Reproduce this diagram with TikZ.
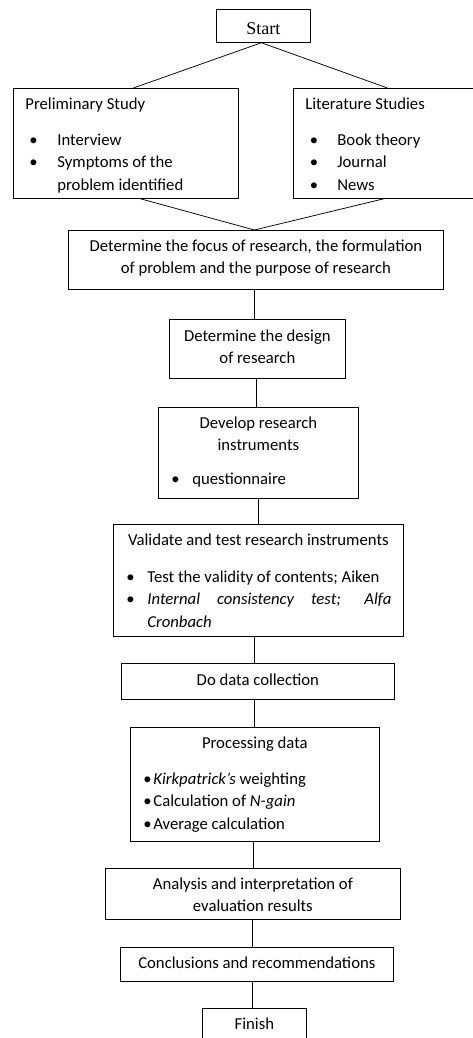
\documentclass[tikz,border=0pt]{standalone}
\usepackage{fontspec}
\setmainfont{Carlito}
\newfontfamily\timesfont{Liberation Serif}
\newcommand\bx[3]{\parbox[c][#2pt][t]{#1pt}{\fontsize{16.7}{22.3}\selectfont#3}}
\newcommand\bl[2]{\hspace*{#1pt}\makebox[#2pt][l]{\textbullet}}
\newcommand\fst[1]{\rule{0pt}{#1pt}}
\tikzset{
  box/.style={draw=black, line width=0.75pt, rectangle, inner sep=0pt, anchor=north west},
  link/.style={draw=black, line width=0.75pt}
}
\begin{document}
\begin{tikzpicture}[x=1pt,y=-1pt]
\clip (0,0) rectangle (473,1038);
\useasboundingbox (0,0) rectangle (473,1038);

\node[box] (start) at (216,9) {\bx{94}{33}{\centering\timesfont\fontsize{18}{20}\selectfont\fst{25}Start}};

\node[box] (prelim) at (13,88) {\bx{225}{110}{\fst{21}\hspace*{12pt}Preliminary Study\\[14pt]
\bl{16}{28}Interview\\
\bl{16}{28}Symptoms of the\\
\hspace*{44pt}problem identified}};

\node[box] (lit) at (293,88) {\bx{181}{110}{\fst{21}\hspace*{12pt}Literature Studies\\[14pt]
\bl{16.5}{27.5}Book theory\\
\bl{16.5}{27.5}Journal\\
\bl{16.5}{27.5}News}};

\node[box] (focus) at (68,230) {\bx{375}{59}{\centering\fst{21}Determine the focus of research, the formulation\\ of problem and the purpose of research}};

\node[box] (design) at (169,319) {\bx{176}{59}{\centering\fst{22}Determine the design\\ of research}};

\node[box] (develop) at (158,407) {\bx{200}{91}{\centering\fst{21}Develop research\\ instruments\\[12pt]
\makebox[200pt][l]{\bl{13}{21}questionnaire}}};

\node[box] (validate) at (113,524) {\bx{290}{112}{\centering\fst{21}Validate and test research instruments\\[15pt]
\makebox[290pt][l]{\bl{13}{21}Test the validity of contents; Aiken}\\
\makebox[290pt][l]{\bl{13}{21}\makebox[244pt][s]{\itshape Internal consistency test; Alfa}}\\
\makebox[290pt][l]{\hspace*{34pt}\itshape Cronbach}}};

\node[box] (data) at (121,663) {\bx{273}{36}{\centering\fst{22}Do data collection}};

\node[box] (proc) at (130,727) {\bx{249}{114}{\centering\fst{21}Processing data\\[14pt]
\makebox[249pt][l]{\bl{13}{10}\textit{Kirkpatrick's} weighting}\\
\makebox[249pt][l]{\bl{13}{10}Calculation of \textit{N-gain}}\\
\makebox[249pt][l]{\bl{13}{10}Average calculation}}};

\node[box] (analysis) at (105,868) {\bx{295}{51}{\centering\fst{21}Analysis and interpretation of\\ evaluation results}};

\node[box] (concl) at (120,947) {\bx{273}{34}{\centering\fst{21}Conclusions and recommendations}};

\node[box] (finish) at (202,1008) {\bx{104}{36}{\centering\fst{21}Finish}};

% connectors
\draw[link] ([xshift=-2pt]start.south) -- ([xshift=7.5pt]prelim.north);
\draw[link] ([xshift=-2pt]start.south) -- ([xshift=3.5pt]lit.north);
\draw[link] ([xshift=14.5pt]prelim.south) -- ([xshift=-1.5pt]focus.north);
\draw[link] (lit.south) -- ([xshift=-1.5pt]focus.north);
\draw[link] ([xshift=-1.5pt]focus.south) -- ([xshift=-1.5pt]focus.south |- design.north);
\draw[link] ([xshift=-1pt]design.south) -- ([xshift=-1pt]design.south |- develop.north);
\draw[link] (develop.south) -- (develop.south |- validate.north);
\draw[link] ([xshift=-4pt]validate.south) -- ([xshift=-4pt]validate.south |- data.north);
\draw[link] ([xshift=-3.5pt]data.south) -- ([xshift=-3.5pt]data.south |- proc.north);
\draw[link] ([xshift=-1.5pt]proc.south) -- ([xshift=-1.5pt]proc.south |- analysis.north);
\draw[link] ([xshift=-0.5pt]analysis.south) -- ([xshift=-0.5pt]analysis.south |- concl.north);
\draw[link] ([xshift=-4.5pt]concl.south) -- ([xshift=-4.5pt]concl.south |- finish.north);
\end{tikzpicture}
\end{document}
